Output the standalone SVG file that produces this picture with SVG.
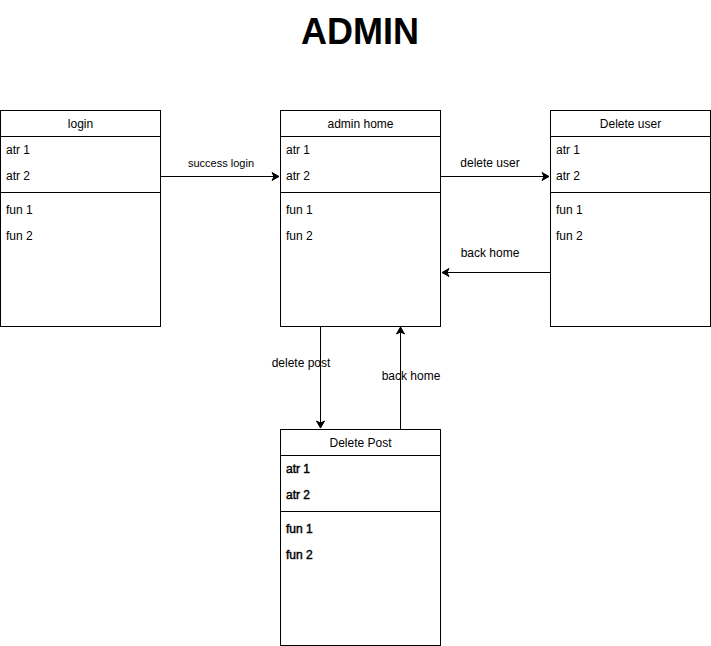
<svg xmlns="http://www.w3.org/2000/svg" width="711" height="646" viewBox="0 0 711 646">
<style>
text{font-family:"Liberation Sans",Arial,sans-serif;font-size:12px;fill:#000}
.t{font-size:36px;font-weight:bold}
.h{text-anchor:middle}
.b{stroke:#000;stroke-width:0.45}
.box{fill:#fff;stroke:#000;stroke-width:1}
.ln{stroke:#000;stroke-width:1;fill:none}
.lbl{text-anchor:middle;font-size:11px}
.lb{text-anchor:middle}
</style>
<defs>
<marker id="arr" markerWidth="10" markerHeight="10" refX="8" refY="5" orient="auto" markerUnits="userSpaceOnUse">
<path d="M1,1 L8,5 L1,9 L3,5 Z" fill="#000" stroke="#000" stroke-width="1"/>
</marker>
</defs>
<rect width="711" height="646" fill="#fff"/>
<text class="t h" x="360" y="44">ADMIN</text>
<g id="connectors">
<path class="ln" d="M160.5,176.5 H279" marker-end="url(#arr)"/>
<text class="lbl" x="221" y="167">success login</text>
<path class="ln" d="M440.5,176.5 H549" marker-end="url(#arr)"/>
<text class="lb" x="490" y="167">delete user</text>
<path class="ln" d="M550.5,272.5 H442" marker-end="url(#arr)"/>
<text class="lb" x="490" y="257">back home</text>
<path class="ln" d="M320.5,326.5 V428" marker-end="url(#arr)"/>
<text class="lb" x="301" y="367">delete post</text>
<path class="ln" d="M400.5,429.5 V327" marker-end="url(#arr)"/>
<text class="lb" x="411" y="380">back home</text>
</g>
<g id="login">
<rect class="box" x="0.5" y="110.5" width="160" height="216"/>
<path class="ln" d="M0.5,136.5 H160.5 M0.5,192.5 H160.5"/>
<text class="h" x="80.5" y="128">login</text>
<text x="6" y="154">atr 1</text>
<text x="6" y="180">atr 2</text>
<text x="6" y="214">fun 1</text>
<text x="6" y="240">fun 2</text>
</g>
<g id="admin-home">
<rect class="box" x="280.5" y="110.5" width="160" height="216"/>
<path class="ln" d="M280.5,136.5 H440.5 M280.5,192.5 H440.5"/>
<text class="h" x="360.5" y="128">admin home</text>
<text x="286" y="154">atr 1</text>
<text x="286" y="180">atr 2</text>
<text x="286" y="214">fun 1</text>
<text x="286" y="240">fun 2</text>
</g>
<g id="delete-user">
<rect class="box" x="550.5" y="110.5" width="160" height="216"/>
<path class="ln" d="M550.5,136.5 H710.5 M550.5,192.5 H710.5"/>
<text class="h" x="630.5" y="128">Delete user</text>
<text x="556" y="154">atr 1</text>
<text x="556" y="180">atr 2</text>
<text x="556" y="214">fun 1</text>
<text x="556" y="240">fun 2</text>
</g>
<g id="delete-post">
<rect class="box" x="280.5" y="429.5" width="160" height="216"/>
<path class="ln" d="M280.5,455.5 H440.5 M280.5,511.5 H440.5"/>
<text class="h" x="360.5" y="447">Delete Post</text>
<text class="b" x="286" y="473">atr 1</text>
<text class="b" x="286" y="499">atr 2</text>
<text class="b" x="286" y="533">fun 1</text>
<text class="b" x="286" y="559">fun 2</text>
</g>
</svg>
